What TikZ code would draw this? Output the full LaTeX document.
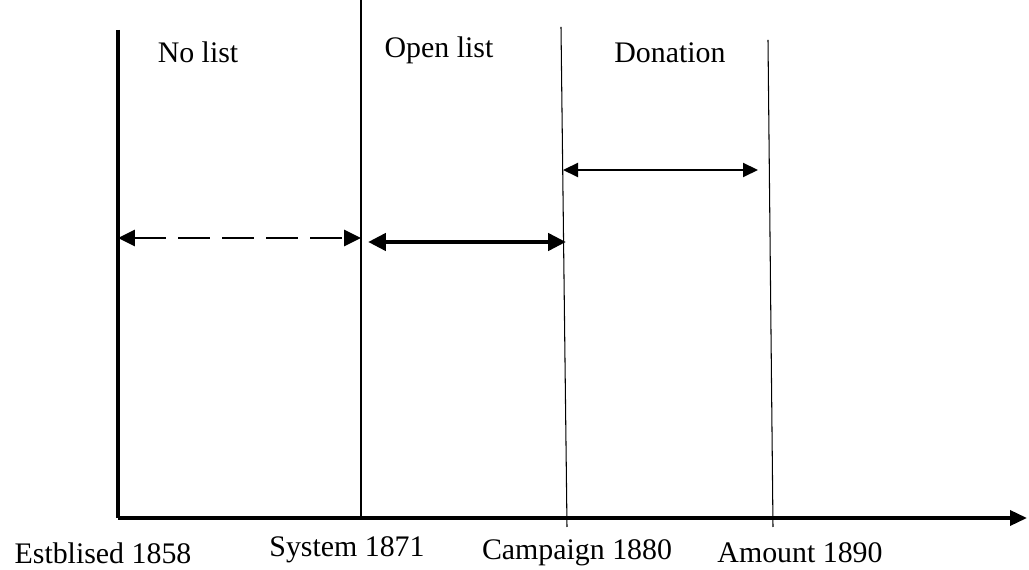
\documentclass[tikz,border=0pt]{standalone}
\usepackage{fontspec}
\setmainfont{Liberation Serif}
\usepackage{tikz}
\usetikzlibrary{arrows.meta,positioning}

\begin{document}
\begin{tikzpicture}[x=0.02cm,y=-0.02cm,
    lbl/.style={font=\fontsize{17}{20}\selectfont,inner sep=0pt}]
    \useasboundingbox (0,0) rectangle (1029,570);
    \coordinate (O) at (118,518);
    \coordinate (T) at (118,30);
    \coordinate (X) at (1027,518);
    \coordinate (A1) at (361,0);
    \coordinate (A2) at (361,518);
    \coordinate (B1) at (561,27);
    \coordinate (B2) at (567,527);
    \coordinate (C1) at (768,40);
    \coordinate (C2) at (773,527);
    \draw[line width=1.8pt] (T) -- (O);
    \draw[line width=2pt,-{Triangle[length=0.34cm,width=0.3cm]}] (O) -- (X);
    \draw[line width=0.6pt] (A1) -- (A2);
    \draw[line width=0.6pt] (B1) -- (B2);
    \draw[line width=0.6pt] (C1) -- (C2);
    \node[lbl] (nolist) at (198,52) {No list};
    \node[lbl] (open) at (439,50) {Open list};
    \node[lbl] (don) at (670,53) {Donation};
    \node[lbl] (est) at (103,553) {Estblised 1858};
    \node[lbl] (sys) at (347,550) {System 1871};
    \node[lbl] (camp) at (577,553) {Campaign 1880};
    \node[lbl] (amt) at (800,553) {Amount 1890};
    \coordinate (d1) at (118,238);
    \coordinate (d2) at (361,238);
    \coordinate (s1) at (368,242);
    \coordinate (s2) at (566,242);
    \coordinate (t1) at (563,170);
    \coordinate (t2) at (758,170);
    \draw[line width=1.7pt,dash pattern=on 0.64cm off 0.24cm,
        {Triangle[length=0.34cm,width=0.32cm]}-{Triangle[length=0.34cm,width=0.32cm]}] (d1) -- (d2);
    \draw[line width=2.8pt,
        {Triangle[length=0.36cm,width=0.34cm]}-{Triangle[length=0.36cm,width=0.34cm]}] (s1) -- (s2);
    \draw[line width=1.2pt,
        {Triangle[length=0.3cm,width=0.28cm]}-{Triangle[length=0.3cm,width=0.28cm]}] (t1) -- (t2);
\end{tikzpicture}
\end{document}
